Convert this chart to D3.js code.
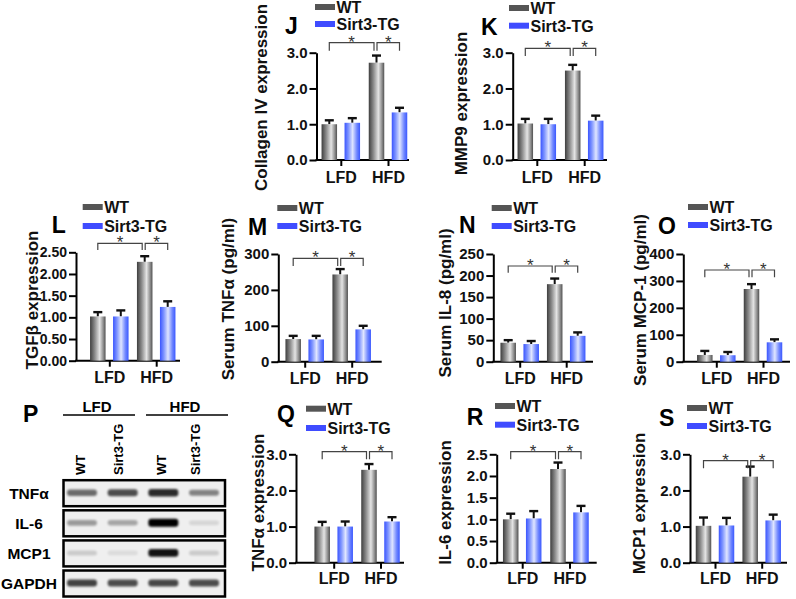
<!DOCTYPE html>
<html><head><meta charset="utf-8">
<script src="https://cdn.jsdelivr.net/npm/d3@7"></script>
<style>body{margin:0;background:#fff} svg{display:block} text{font-family:"Liberation Sans",Arial,Helvetica,sans-serif}</style>
</head><body><svg id="c" width="796" height="599"></svg>
<script>
// ---------- data ----------
const groups = ["LFD", "HFD"];
const seriesNames = ["WT", "Sirt3-TG"];
const panelLetters = ["J", "K", "L", "M", "N", "O", "Q", "R", "S"];
const yTitles = ["Collagen IV expression", "MMP9 expression", "TGFβ expression", "Serum TNFα (pg/ml)", "Serum IL-8 (pg/ml)", "Serum MCP-1 (pg/ml)", "TNFα expression", "IL-6 expression", "MCP1 expression"];
const wtMeans = [[1.00, 2.72], [1.02, 2.50], [1.02, 2.28], [63, 243], [44, 180], [25, 270], [1.00, 2.57], [1.00, 2.16], [1.02, 2.38]];
const wtErrs  = [[0.11, 0.20], [0.13, 0.16], [0.10, 0.13], [9, 15], [6, 13], [15, 18], [0.13, 0.16], [0.13, 0.15], [0.23, 0.28]];
const tgMeans = [[1.04, 1.33], [1.00, 1.10], [1.02, 1.24], [62, 90], [41, 60], [24, 72], [1.00, 1.14], [1.02, 1.16], [1.03, 1.17]];
const tgErrs  = [[0.13, 0.13], [0.15, 0.14], [0.14, 0.13], [10, 10], [7, 8], [12, 11], [0.14, 0.12], [0.17, 0.15], [0.21, 0.16]];
const yMaxes = [3, 3, 2.5, 300, 250, 400, 3, 2.5, 3];
const yTickSteps = [1, 1, 0.5, 100, 50, 100, 1, 0.5, 1];
const yTickFormats = [".1f", ".1f", ".2f", "d", "d", "d", ".1f", ".1f", ".1f"];
const sigLabels = ["*", "*"];

const blotLetter = "P";
const blotProteins = ["TNFα", "IL-6", "MCP1", "GAPDH"];
const blotDiets = ["LFD", "HFD"];
const blotLanes = ["WT", "Sirt3-TG", "WT", "Sirt3-TG"];
const bandIntensity = [[0.55, 0.68, 0.82, 0.45], [0.35, 0.3, 1.0, 0.1], [0.15, 0.08, 0.92, 0.15], [0.72, 0.68, 0.7, 0.68]];

// ---------- layout (pixels) ----------
const layout = [
  {axisX:316.5, axisEnd:409, c:[340.8,388], y0:160, yTop:52.7, lbl:[261.7,97.5], letter:[285,34], leg:[315,4,21], br:[42.7,50.7], xl:23, tf:15},
  {axisX:512.7, axisEnd:607, c:[536.8,584.2], y0:160, yTop:52.7, lbl:[461.7,103.5], letter:[481,35], leg:[509,5,22.7], br:[48.3,56], xl:23, tf:15},
  {axisX:76, axisEnd:180, c:[109.3,156.2], y0:360.7, yTop:252.3, lbl:[32,300], letter:[51.7,233], leg:[82.7,204,223], br:[243.3,250], xl:22, tf:14},
  {axisX:278.3, axisEnd:381.7, c:[304.7,351.7], y0:361.7, yTop:254, lbl:[228,299], letter:[248,235], leg:[277.3,205,223], br:[258.3,266], xl:22, tf:15},
  {axisX:493.3, axisEnd:593, c:[519.7,566.2], y0:361.7, yTop:254, lbl:[445,303], letter:[459,233], leg:[491.7,205,223], br:[266,272.7], xl:22, tf:15},
  {axisX:683.3, axisEnd:790, c:[716.3,763], y0:361.7, yTop:254, lbl:[640,300], letter:[658,234], leg:[688,204,222], br:[270,277.3], xl:22, tf:15},
  {axisX:296, axisEnd:404, c:[333.7,380.5], y0:562.7, yTop:454.3, lbl:[258,502.5], letter:[277,422], leg:[306,405.7,425], br:[451.7,459.3], xl:21.5, tf:15},
  {axisX:496.7, axisEnd:596.7, c:[522.2,569.5], y0:562.7, yTop:454.3, lbl:[445,502.5], letter:[466.7,425], leg:[495,403,421.7], br:[451.7,459.3], xl:21.5, tf:15},
  {axisX:690, axisEnd:787, c:[715,761.7], y0:562.7, yTop:454.3, lbl:[639,503.5], letter:[659,426], leg:[687,405,423], br:[460.7,468.3], xl:21.5, tf:15}
];
const colors = {WT:"#555555", "Sirt3-TG":"#3f4cff"};

const svg = d3.select("#c");
const defs = svg.append("defs");
function grad(id, stops){
  const lg = defs.append("linearGradient").attr("id", id).attr("x1","0").attr("x2","1").attr("y1","0").attr("y2","0");
  stops.forEach(s => lg.append("stop").attr("offset", s[0]).attr("stop-color", s[1]));
}
grad("gWT", [[0,"#3e3e3e"],[0.3,"#8a8a8a"],[0.62,"#e4e4e4"],[0.85,"#8f8f8f"],[1,"#505050"]]);
grad("gTG", [[0,"#3a55ff"],[0.25,"#7f95ff"],[0.52,"#dfe5ff"],[0.8,"#6f86ff"],[1,"#3a58ff"]]);
const blur = defs.append("filter").attr("id","blur").attr("x","-30%").attr("y","-80%").attr("width","160%").attr("height","260%");
blur.append("feGaussianBlur").attr("stdDeviation", 1.3);

panelLetters.forEach((id, i) => {
  const L = layout[i];
  const g = svg.append("g");
  const y = d3.scaleLinear().domain([0, yMaxes[i]]).range([L.y0, L.yTop]);
  const xg = d3.scalePoint().domain(groups).range(L.c);
  const xs = d3.scaleBand().domain(seriesNames).range([-19.25, 19.25]).paddingInner(0.326);
  const ticks = d3.range(0, yMaxes[i] + 1e-9, yTickSteps[i]);

  // y axis
  const ya = g.append("g").attr("transform", `translate(${L.axisX},0)`)
    .call(d3.axisLeft(y).tickValues(ticks).tickFormat(d3.format(yTickFormats[i])).tickSize(7).tickSizeOuter(0).tickPadding(2));
  ya.select(".domain").attr("stroke", "#000").attr("stroke-width", 2);
  ya.selectAll(".tick line").attr("stroke", "#000").attr("stroke-width", 2);
  ya.selectAll(".tick text").attr("font-size", L.tf).attr("font-weight", "bold").attr("fill", "#111")
    .attr("font-family", '"Liberation Sans",Arial,sans-serif');

  // x axis
  g.append("line").attr("x1", L.axisX - 1).attr("x2", L.axisEnd).attr("y1", L.y0).attr("y2", L.y0)
    .attr("stroke", "#000").attr("stroke-width", 2);
  const xa = g.append("g").attr("transform", `translate(0,${L.y0})`)
    .call(d3.axisBottom(xg).tickSize(6).tickPadding(L.xl - 6 - 11.4));
  xa.select(".domain").remove();
  xa.selectAll(".tick line").attr("stroke", "#000").attr("stroke-width", 2);
  xa.selectAll(".tick text").attr("font-size", 16).attr("font-weight", "bold").attr("fill", "#111")
    .attr("font-family", '"Liberation Sans",Arial,sans-serif');

  // bars
  const rows = [];
  groups.forEach((gr, gi) => {
    rows.push({g: gr, s: "WT", v: wtMeans[i][gi], e: wtErrs[i][gi]});
    rows.push({g: gr, s: "Sirt3-TG", v: tgMeans[i][gi], e: tgErrs[i][gi]});
  });
  const bx = d => xg(d.g) + xs(d.s);
  const cx = d => bx(d) + xs.bandwidth() / 2;
  g.selectAll(".eb").data(rows).join("line").attr("x1", cx).attr("x2", cx)
    .attr("y1", d => y(d.v)).attr("y2", d => y(d.v + d.e)).attr("stroke", "#111").attr("stroke-width", 2);
  g.selectAll(".ec").data(rows).join("line").attr("x1", d => cx(d) - 4.5).attr("x2", d => cx(d) + 4.5)
    .attr("y1", d => y(d.v + d.e)).attr("y2", d => y(d.v + d.e)).attr("stroke", "#111").attr("stroke-width", 2.4);
  g.selectAll(".bar").data(rows).join("rect")
    .attr("x", bx).attr("width", xs.bandwidth())
    .attr("y", d => y(d.v)).attr("height", d => y(0) - y(d.v))
    .attr("fill", d => d.s === "WT" ? "url(#gWT)" : "url(#gTG)");

  // significance brackets
  const wL = cx(rows[0]), wH = cx(rows[2]), tH = cx(rows[3]);
  const brs = [[wL, wH - 2.5], [wH + 0.5, tH]];
  brs.forEach((b, k) => {
    g.append("path").attr("d", `M${b[0]},${L.br[1]}V${L.br[0]}H${b[1]}V${L.br[1]}`)
      .attr("fill", "none").attr("stroke", "#444").attr("stroke-width", 1.2);
    g.append("text").attr("x", (b[0] + b[1]) / 2).attr("y", L.br[0] + 5).attr("text-anchor", "middle")
      .attr("font-size", 17).attr("fill", "#333").text(sigLabels[k]);
  });

  // y title
  g.append("text").attr("transform", `translate(${L.lbl[0]},${L.lbl[1]}) rotate(-90)`)
    .attr("text-anchor", "middle").attr("dominant-baseline", "central")
    .attr("font-size", 17).attr("font-weight", "bold").attr("fill", "#111").text(yTitles[i]);

  // panel letter
  g.append("text").attr("x", L.letter[0]).attr("y", L.letter[1]).attr("font-size", 23).attr("font-weight", "bold")
    .attr("fill", "#000").text(id);

  // legend
  seriesNames.forEach((s, k) => {
    const ty = L.leg[1 + k];
    g.append("rect").attr("x", L.leg[0]).attr("y", ty).attr("width", 20).attr("height", 6).attr("fill", colors[s]);
    g.append("text").attr("x", L.leg[0] + 21.5).attr("y", ty + 9).attr("font-size", 16).attr("font-weight", "bold")
      .attr("fill", "#111").text(s);
  });
});

// ---------- blot panel P ----------
const bp = svg.append("g");
bp.append("text").attr("x", 23).attr("y", 422).attr("font-size", 23).attr("font-weight", "bold").text(blotLetter);
const laneX = d3.scalePoint().domain(d3.range(blotLanes.length)).range([82, 204]);
const rowY = d3.scalePoint().domain(d3.range(blotProteins.length)).range([492.7, 583]);
const dietSpans = [[63, 135], [146, 228]];
blotDiets.forEach((d, k) => {
  bp.append("line").attr("x1", dietSpans[k][0]).attr("x2", dietSpans[k][1]).attr("y1", 415).attr("y2", 415)
    .attr("stroke", "#000").attr("stroke-width", 1.5);
  bp.append("text").attr("x", (dietSpans[k][0] + dietSpans[k][1]) / 2 - 2).attr("y", 411.5).attr("text-anchor", "middle")
    .attr("font-size", 15).attr("font-weight", "bold").text(d);
});
const laneShift = [0, -2, 0, -7];
blotLanes.forEach((l, k) => {
  bp.append("text").attr("transform", `translate(${laneX(k) - 2 + laneShift[k]},475) rotate(-90)`)
    .attr("dominant-baseline", "central").attr("font-size", 13).attr("font-weight", "bold").text(l);
});
blotProteins.forEach((p, r) => {
  const cy = rowY(r);
  bp.append("rect").attr("x", 63.5).attr("y", cy - 12.5).attr("width", 161.5).attr("height", 26)
    .attr("fill", "#efefef").attr("stroke", "#000").attr("stroke-width", 2.5);
  bp.append("text").attr("x", 29).attr("y", cy + 6).attr("text-anchor", "middle").attr("font-size", 15.5)
    .attr("font-weight", "bold").text(p);
  bandIntensity[r].forEach((v, k) => {
    const h = 4.5 + 3.5 * v;
    bp.append("rect").attr("x", laneX(k) - 15).attr("y", cy - h / 2).attr("width", 30).attr("height", h)
      .attr("rx", 3).attr("fill", "#000").attr("opacity", v).attr("filter", "url(#blur)");
  });
});
</script></body></html>
